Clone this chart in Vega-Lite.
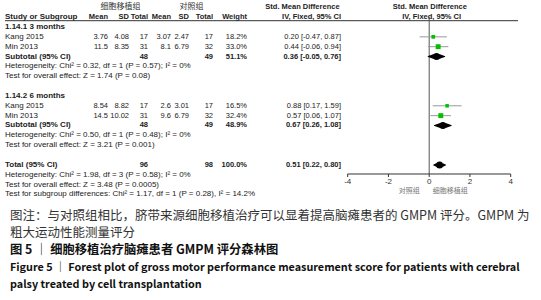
{
  "$schema": "https://vega.github.io/schema/vega-lite/v6.json",
  "width": 541,
  "height": 300,
  "autosize": {"type": "fit", "contains": "padding"},
  "padding": 0,
  "background": "white",
  "config": {"view": {"stroke": null}},
  "datasets": {
    "rows": [
      {"kind": "header", "r": 1, "label": "Study or Subgroup", "m1": "Mean", "sd1": "SD", "n1": "Total", "m2": "Mean", "sd2": "SD", "n2": "Total", "wt": "Weight", "ci": "IV, Fixed, 95% CI"},
      {"kind": "group", "r": 2, "label": "1.14.1 3 months"},
      {"kind": "study", "r": 3, "label": "Kang 2015", "m1": 3.76, "sd1": 4.08, "n1": 17, "m2": 3.07, "sd2": 2.47, "n2": 17, "wt": "18.2%", "ci": "0.20 [-0.47, 0.87]", "w": 18.2, "est": 0.20, "lo": -0.47, "hi": 0.87},
      {"kind": "study", "r": 4, "label": "Min 2013", "m1": 11.5, "sd1": 8.35, "n1": 31, "m2": 8.1, "sd2": 6.79, "n2": 32, "wt": "33.0%", "ci": "0.44 [-0.06, 0.94]", "w": 33.0, "est": 0.44, "lo": -0.06, "hi": 0.94},
      {"kind": "subtotal", "r": 5, "label": "Subtotal (95% CI)", "n1": 48, "n2": 49, "wt": "51.1%", "ci": "0.36 [-0.05, 0.76]", "est": 0.36, "lo": -0.05, "hi": 0.76},
      {"kind": "note", "r": 6, "label": "Heterogeneity: Chi² = 0.32, df = 1 (P = 0.57); I² = 0%"},
      {"kind": "note", "r": 7, "label": "Test for overall effect: Z = 1.74 (P = 0.08)"},
      {"kind": "group", "r": 9, "label": "1.14.2 6 months"},
      {"kind": "study", "r": 10, "label": "Kang 2015", "m1": 8.54, "sd1": 8.82, "n1": 17, "m2": 2.6, "sd2": 3.01, "n2": 17, "wt": "16.5%", "ci": "0.88 [0.17, 1.59]", "w": 16.5, "est": 0.88, "lo": 0.17, "hi": 1.59},
      {"kind": "study", "r": 11, "label": "Min 2013", "m1": 14.5, "sd1": 10.02, "n1": 31, "m2": 9.6, "sd2": 6.79, "n2": 32, "wt": "32.4%", "ci": "0.57 [0.06, 1.07]", "w": 32.4, "est": 0.57, "lo": 0.06, "hi": 1.07},
      {"kind": "subtotal", "r": 12, "label": "Subtotal (95% CI)", "n1": 48, "n2": 49, "wt": "48.9%", "ci": "0.67 [0.26, 1.08]", "est": 0.67, "lo": 0.26, "hi": 1.08},
      {"kind": "note", "r": 13, "label": "Heterogeneity: Chi² = 0.50, df = 1 (P = 0.48); I² = 0%"},
      {"kind": "note", "r": 14, "label": "Test for overall effect: Z = 3.21 (P = 0.001)"},
      {"kind": "total", "r": 16, "label": "Total (95% CI)", "n1": 96, "n2": 98, "wt": "100.0%", "ci": "0.51 [0.22, 0.80]", "est": 0.51, "lo": 0.22, "hi": 0.80},
      {"kind": "note", "r": 17, "label": "Heterogeneity: Chi² = 1.98, df = 3 (P = 0.58); I² = 0%"},
      {"kind": "note", "r": 18, "label": "Test for overall effect: Z = 3.48 (P = 0.0005)"},
      {"kind": "note", "r": 19, "label": "Test for subgroup differences: Chi² = 1.17, df = 1 (P = 0.28), I² = 14.2%"}
    ],
    "cols": [
      {"key": "m1", "c": 1}, {"key": "sd1", "c": 2}, {"key": "n1", "c": 3},
      {"key": "m2", "c": 4}, {"key": "sd2", "c": 5}, {"key": "n2", "c": 6},
      {"key": "wt", "c": 7}, {"key": "ci", "c": 8}
    ],
    "ticks": [{"t": -4}, {"t": -2}, {"t": 0}, {"t": 2}, {"t": 4}],
    "caption": [
      {"n": 1, "t": "图注：与对照组相比，脐带来源细胞移植治疗可以显着提高脑瘫患者的 GMPM 评分。GMPM 为"},
      {"n": 2, "t": "粗大运动性能测量评分"},
      {"n": 3, "t": "图 5 ｜ 细胞移植治疗脑瘫患者 GMPM 评分森林图"},
      {"n": 4, "t": "Figure 5 ｜ Forest plot of gross motor performance measurement score for patients with cerebral"},
      {"n": 5, "t": "palsy treated by cell transplantation"}
    ]
  },
  "layer": [
    {
      "data": {"name": "rows"},
      "transform": [
        {"filter": "datum.kind === 'study'"},
        {"fold": ["m1", "sd1", "n1", "m2", "sd2", "n2", "wt", "ci"], "as": ["key", "val"]},
        {"filter": "isValid(datum.val)"},
        {"lookup": "key", "from": {"data": {"name": "cols"}, "key": "key", "fields": ["c"]}}
      ],
      "mark": {"type": "text", "align": "right", "baseline": "middle", "font": "Liberation Sans", "fontSize": 7.5, "color": "#222"},
      "encoding": {
        "x": {"field": "c", "type": "quantitative", "axis": null, "scale": {"type": "linear", "domain": [0, 1, 2, 3, 4, 5, 6, 7, 8, 9], "range": [5, 108, 129, 148, 171, 189, 213, 247, 341, 518], "nice": false, "zero": false}},
        "y": {"field": "r", "type": "quantitative", "axis": null, "scale": {"domain": [-0.741, 29.716], "reverse": true, "nice": false, "zero": false}},
        "text": {"field": "val", "type": "nominal"}
      }
    },
    {
      "data": {"name": "rows"},
      "transform": [
        {"filter": "indexof(['header', 'subtotal', 'total'], datum.kind) >= 0"},
        {"fold": ["m1", "sd1", "n1", "m2", "sd2", "n2", "wt", "ci"], "as": ["key", "val"]},
        {"filter": "isValid(datum.val)"},
        {"lookup": "key", "from": {"data": {"name": "cols"}, "key": "key", "fields": ["c"]}}
      ],
      "mark": {"type": "text", "align": "right", "baseline": "middle", "font": "Liberation Sans", "fontSize": 7.5, "fontWeight": "bold", "color": "#222"},
      "encoding": {
        "x": {"field": "c", "type": "quantitative", "axis": null, "scale": {"type": "linear", "domain": [0, 1, 2, 3, 4, 5, 6, 7, 8, 9], "range": [5, 108, 129, 148, 171, 189, 213, 247, 341, 518], "nice": false, "zero": false}},
        "y": {"field": "r", "type": "quantitative", "axis": null, "scale": {"domain": [-0.741, 29.716], "reverse": true, "nice": false, "zero": false}},
        "text": {"field": "val", "type": "nominal"}
      }
    },
    {
      "data": {"name": "rows"},
      "transform": [{"filter": "datum.kind === 'study' || datum.kind === 'note'"}],
      "mark": {"type": "text", "align": "left", "baseline": "middle", "font": "Liberation Sans", "fontSize": 8, "color": "#222"},
      "encoding": {
        "x": {"datum": 0, "type": "quantitative", "axis": null, "scale": {"type": "linear", "domain": [0, 1, 2, 3, 4, 5, 6, 7, 8, 9], "range": [5, 108, 129, 148, 171, 189, 213, 247, 341, 518], "nice": false, "zero": false}},
        "y": {"field": "r", "type": "quantitative", "axis": null, "scale": {"domain": [-0.741, 29.716], "reverse": true, "nice": false, "zero": false}},
        "text": {"field": "label", "type": "nominal"}
      }
    },
    {
      "data": {"name": "rows"},
      "transform": [{"filter": "indexof(['header', 'group', 'subtotal', 'total'], datum.kind) >= 0"}],
      "mark": {"type": "text", "align": "left", "baseline": "middle", "font": "Liberation Sans", "fontSize": 8, "fontWeight": "bold", "color": "#222"},
      "encoding": {
        "x": {"datum": 0, "type": "quantitative", "axis": null, "scale": {"type": "linear", "domain": [0, 1, 2, 3, 4, 5, 6, 7, 8, 9], "range": [5, 108, 129, 148, 171, 189, 213, 247, 341, 518], "nice": false, "zero": false}},
        "y": {"field": "r", "type": "quantitative", "axis": null, "scale": {"domain": [-0.741, 29.716], "reverse": true, "nice": false, "zero": false}},
        "text": {"field": "label", "type": "nominal"}
      }
    },
    {
      "data": {"values": [{}]},
      "mark": {"type": "rule", "color": "#333", "strokeWidth": 1},
      "encoding": {
        "x": {"datum": 0, "type": "quantitative", "axis": null, "scale": {"type": "linear", "domain": [0, 1, 2, 3, 4, 5, 6, 7, 8, 9], "range": [5, 108, 129, 148, 171, 189, 213, 247, 341, 518], "nice": false, "zero": false}},
        "x2": {"datum": 9},
        "y": {"datum": 1.36, "type": "quantitative", "axis": null, "scale": {"domain": [-0.741, 29.716], "reverse": true, "nice": false, "zero": false}}
      }
    },
    {
      "data": {"values": [{}]},
      "mark": {"type": "text", "align": "center", "baseline": "middle", "font": "Noto Sans CJK SC", "fontSize": 8, "color": "#333"},
      "encoding": {
        "x": {"datum": 1.6, "type": "quantitative", "axis": null, "scale": {"type": "linear", "domain": [0, 1, 2, 3, 4, 5, 6, 7, 8, 9], "range": [5, 108, 129, 148, 171, 189, 213, 247, 341, 518], "nice": false, "zero": false}},
        "y": {"datum": 0, "type": "quantitative", "axis": null, "scale": {"domain": [-0.741, 29.716], "reverse": true, "nice": false, "zero": false}},
        "text": {"value": "细胞移植组"}
      }
    },
    {
      "data": {"values": [{}]},
      "mark": {"type": "text", "align": "center", "baseline": "middle", "font": "Noto Sans CJK SC", "fontSize": 8, "color": "#333"},
      "encoding": {
        "x": {"datum": 5.1, "type": "quantitative", "axis": null, "scale": {"type": "linear", "domain": [0, 1, 2, 3, 4, 5, 6, 7, 8, 9], "range": [5, 108, 129, 148, 171, 189, 213, 247, 341, 518], "nice": false, "zero": false}},
        "y": {"datum": 0, "type": "quantitative", "axis": null, "scale": {"domain": [-0.741, 29.716], "reverse": true, "nice": false, "zero": false}},
        "text": {"value": "对照组"}
      }
    },
    {
      "data": {"values": [{}]},
      "mark": {"type": "text", "align": "center", "baseline": "middle", "font": "Liberation Sans", "fontSize": 7.5, "fontWeight": "bold", "color": "#222"},
      "encoding": {
        "x": {"datum": 7.59, "type": "quantitative", "axis": null, "scale": {"type": "linear", "domain": [0, 1, 2, 3, 4, 5, 6, 7, 8, 9], "range": [5, 108, 129, 148, 171, 189, 213, 247, 341, 518], "nice": false, "zero": false}},
        "y": {"datum": 0, "type": "quantitative", "axis": null, "scale": {"domain": [-0.741, 29.716], "reverse": true, "nice": false, "zero": false}},
        "text": {"value": "Std. Mean Difference"}
      }
    },
    {
      "data": {"values": [{}]},
      "mark": {"type": "text", "align": "center", "baseline": "middle", "font": "Liberation Sans", "fontSize": 7.5, "fontWeight": "bold", "color": "#222"},
      "encoding": {
        "x": {"datum": 0.03, "type": "quantitative", "axis": null, "scale": {"domain": [-4, 4], "range": [347.7, 510.7], "nice": false, "zero": false}},
        "y": {"datum": 0, "type": "quantitative", "axis": null, "scale": {"domain": [-0.741, 29.716], "reverse": true, "nice": false, "zero": false}},
        "text": {"value": "Std. Mean Difference"}
      }
    },
    {
      "data": {"values": [{}]},
      "mark": {"type": "text", "align": "center", "baseline": "middle", "font": "Liberation Sans", "fontSize": 7.5, "fontWeight": "bold", "color": "#222"},
      "encoding": {
        "x": {"datum": 0.12, "type": "quantitative", "axis": null, "scale": {"domain": [-4, 4], "range": [347.7, 510.7], "nice": false, "zero": false}},
        "y": {"datum": 1, "type": "quantitative", "axis": null, "scale": {"domain": [-0.741, 29.716], "reverse": true, "nice": false, "zero": false}},
        "text": {"value": "IV, Fixed, 95% CI"}
      }
    },
    {
      "data": {"values": [{}]},
      "mark": {"type": "rule", "color": "#555", "strokeWidth": 1},
      "encoding": {
        "x": {"datum": 0, "type": "quantitative", "axis": null, "scale": {"domain": [-4, 4], "range": [347.7, 510.7], "nice": false, "zero": false}},
        "y": {"datum": 0.985, "type": "quantitative", "axis": null, "scale": {"domain": [-0.741, 29.716], "reverse": true, "nice": false, "zero": false}},
        "y2": {"datum": 16.924}
      }
    },
    {
      "data": {"name": "rows"},
      "transform": [{"filter": "datum.kind === 'study'"}],
      "mark": {"type": "rule", "color": "#999", "strokeWidth": 1},
      "encoding": {
        "x": {"field": "lo", "type": "quantitative", "axis": null, "scale": {"domain": [-4, 4], "range": [347.7, 510.7], "nice": false, "zero": false}},
        "x2": {"field": "hi"},
        "y": {"field": "r", "type": "quantitative", "axis": null, "scale": {"domain": [-0.741, 29.716], "reverse": true, "nice": false, "zero": false}}
      }
    },
    {
      "data": {"name": "rows"},
      "transform": [{"filter": "datum.kind === 'study'"}],
      "mark": {"type": "point", "shape": "square", "filled": true, "color": "#00c000", "opacity": 1},
      "encoding": {
        "x": {"field": "est", "type": "quantitative", "axis": null, "scale": {"domain": [-4, 4], "range": [347.7, 510.7], "nice": false, "zero": false}},
        "y": {"field": "r", "type": "quantitative", "axis": null, "scale": {"domain": [-0.741, 29.716], "reverse": true, "nice": false, "zero": false}},
        "size": {"field": "w", "type": "quantitative", "scale": {"domain": [0, 35], "range": [0, 26]}, "legend": null}
      }
    },
    {
      "data": {"name": "rows"},
      "transform": [
        {"filter": "datum.kind === 'subtotal' || datum.kind === 'total'"},
        {"fold": ["lo", "est", "hi"], "as": ["pt", "sx"]}
      ],
      "mark": {"type": "trail", "color": "#000"},
      "encoding": {
        "x": {"field": "sx", "type": "quantitative", "axis": null, "scale": {"domain": [-4, 4], "range": [347.7, 510.7], "nice": false, "zero": false}},
        "y": {"field": "r", "type": "quantitative", "axis": null, "scale": {"domain": [-0.741, 29.716], "reverse": true, "nice": false, "zero": false}},
        "detail": {"field": "r", "type": "nominal"},
        "order": {"field": "sx", "type": "quantitative"},
        "size": {"field": "pt", "type": "ordinal", "scale": {"type": "ordinal", "domain": ["lo", "est", "hi"], "range": [0, 7, 0]}, "legend": null}
      }
    },
    {
      "data": {"values": [{}]},
      "mark": {"type": "rule", "color": "#333", "strokeWidth": 1},
      "encoding": {
        "x": {"datum": -4, "type": "quantitative", "axis": null, "scale": {"domain": [-4, 4], "range": [347.7, 510.7], "nice": false, "zero": false}},
        "x2": {"datum": 4},
        "y": {"datum": 16.924, "type": "quantitative", "axis": null, "scale": {"domain": [-0.741, 29.716], "reverse": true, "nice": false, "zero": false}}
      }
    },
    {
      "data": {"name": "ticks"},
      "mark": {"type": "rule", "color": "#333", "strokeWidth": 1},
      "encoding": {
        "x": {"field": "t", "type": "quantitative", "axis": null, "scale": {"domain": [-4, 4], "range": [347.7, 510.7], "nice": false, "zero": false}},
        "y": {"datum": 16.924, "type": "quantitative", "axis": null, "scale": {"domain": [-0.741, 29.716], "reverse": true, "nice": false, "zero": false}},
        "y2": {"datum": 17.23}
      }
    },
    {
      "data": {"name": "ticks"},
      "mark": {"type": "text", "align": "center", "baseline": "middle", "font": "Liberation Sans", "fontSize": 8, "color": "#333"},
      "encoding": {
        "x": {"field": "t", "type": "quantitative", "axis": null, "scale": {"domain": [-4, 4], "range": [347.7, 510.7], "nice": false, "zero": false}},
        "y": {"datum": 17.74, "type": "quantitative", "axis": null, "scale": {"domain": [-0.741, 29.716], "reverse": true, "nice": false, "zero": false}},
        "text": {"field": "t", "type": "nominal"}
      }
    },
    {
      "data": {"values": [{}]},
      "mark": {"type": "text", "align": "right", "baseline": "middle", "font": "Noto Sans CJK SC", "fontSize": 7, "color": "#777"},
      "encoding": {
        "x": {"datum": -0.46, "type": "quantitative", "axis": null, "scale": {"domain": [-4, 4], "range": [347.7, 510.7], "nice": false, "zero": false}},
        "y": {"datum": 18.65, "type": "quantitative", "axis": null, "scale": {"domain": [-0.741, 29.716], "reverse": true, "nice": false, "zero": false}},
        "text": {"value": "对照组"}
      }
    },
    {
      "data": {"values": [{}]},
      "mark": {"type": "text", "align": "left", "baseline": "middle", "font": "Noto Sans CJK SC", "fontSize": 7, "color": "#777"},
      "encoding": {
        "x": {"datum": 0.18, "type": "quantitative", "axis": null, "scale": {"domain": [-4, 4], "range": [347.7, 510.7], "nice": false, "zero": false}},
        "y": {"datum": 18.65, "type": "quantitative", "axis": null, "scale": {"domain": [-0.741, 29.716], "reverse": true, "nice": false, "zero": false}},
        "text": {"value": "细胞移植组"}
      }
    },
    {
      "data": {"name": "caption"},
      "transform": [{"filter": "datum.n <= 2"}],
      "mark": {"type": "text", "align": "left", "baseline": "middle", "dx": 5, "font": "Noto Sans CJK SC", "fontSize": 12.5, "color": "#333"},
      "encoding": {
        "x": {"datum": 0, "type": "quantitative", "axis": null, "scale": {"type": "linear", "domain": [0, 1, 2, 3, 4, 5, 6, 7, 8, 9], "range": [5, 108, 129, 148, 171, 189, 213, 247, 341, 518], "nice": false, "zero": false}},
        "y": {"field": "n", "type": "quantitative", "axis": null, "scale": {"domain": [-11.522, 5.87], "reverse": true, "nice": false, "zero": false}},
        "text": {"field": "t", "type": "nominal"}
      }
    },
    {
      "data": {"name": "caption"},
      "transform": [{"filter": "datum.n === 3"}],
      "mark": {"type": "text", "align": "left", "baseline": "middle", "dx": 5, "font": "Noto Sans CJK SC", "fontSize": 12.3, "fontWeight": "bold", "color": "#111"},
      "encoding": {
        "x": {"datum": 0, "type": "quantitative", "axis": null, "scale": {"type": "linear", "domain": [0, 1, 2, 3, 4, 5, 6, 7, 8, 9], "range": [5, 108, 129, 148, 171, 189, 213, 247, 341, 518], "nice": false, "zero": false}},
        "y": {"field": "n", "type": "quantitative", "axis": null, "scale": {"domain": [-11.522, 5.87], "reverse": true, "nice": false, "zero": false}},
        "text": {"field": "t", "type": "nominal"}
      }
    },
    {
      "data": {"name": "caption"},
      "transform": [{"filter": "datum.n >= 4"}],
      "mark": {"type": "text", "align": "left", "baseline": "middle", "dx": 5, "font": "Noto Sans CJK SC", "fontSize": 10.8, "fontWeight": "bold", "color": "#111"},
      "encoding": {
        "x": {"datum": 0, "type": "quantitative", "axis": null, "scale": {"type": "linear", "domain": [0, 1, 2, 3, 4, 5, 6, 7, 8, 9], "range": [5, 108, 129, 148, 171, 189, 213, 247, 341, 518], "nice": false, "zero": false}},
        "y": {"field": "n", "type": "quantitative", "axis": null, "scale": {"domain": [-11.522, 5.87], "reverse": true, "nice": false, "zero": false}},
        "text": {"field": "t", "type": "nominal"}
      }
    }
  ],
  "resolve": {"scale": {"x": "independent", "y": "independent", "size": "independent"}}
}
